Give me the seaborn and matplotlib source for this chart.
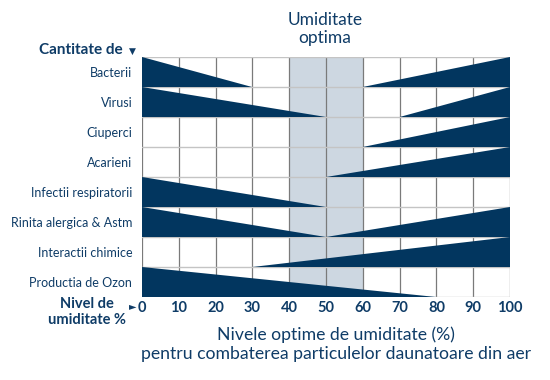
import matplotlib
matplotlib.use("Agg")
import matplotlib.pyplot as plt
import seaborn as sns
import numpy as np

categories = ["Bacterii", "Virusi", "Ciuperci", "Acarieni", "Infectii respiratorii",
              "Rinita alergica & Astm", "Interactii chimice", "Productia de Ozon"]
# humidity where the decreasing (left) wedge ends; None = no left wedge
left_end = [30, 50, None, None, 50, 50, None, 80]
# humidity where the increasing (right) wedge starts; None = no right wedge
right_start = [60, 70, 60, 50, None, 50, 30, None]
x_ticks = [0, 10, 20, 30, 40, 50, 60, 70, 80, 90, 100]
optimal_range = [40, 60]

NAVY = "#02365f"
TEXT = "#0f3c67"
BAND = "#cdd7e1"

sns.set_theme(style="white")
plt.rcParams["font.family"] = ["Lato", "DejaVu Sans"]

fig = plt.figure(figsize=(5.5, 3.8), dpi=100)
ax = fig.add_axes([142/550, 1-297/380, 368/550, 240/380])

n = len(categories)
ax.set_xlim(0, 100)
ax.set_ylim(n, 0)

ax.axvspan(optimal_range[0], optimal_range[1], color=BAND, zorder=0, lw=0)
for xv in x_ticks:
    ax.axvline(xv, color="#7a7a7a", lw=0.9, zorder=1)
for yv in range(n + 1):
    ax.axhline(yv, color="#c4c4c4", lw=1.0, zorder=1)

for i, (le, rs) in enumerate(zip(left_end, right_start)):
    if le is not None:
        ax.fill([0, 0, le], [i, i + 1, i + 1], color=NAVY, lw=0, zorder=2)
    if rs is not None:
        ax.fill([rs, 100, 100], [i + 1, i, i + 1], color=NAVY, lw=0, zorder=2)

ax.set_yticks(np.arange(n) + 0.5)
ax.set_yticklabels(categories, fontsize=9, color=TEXT)
ax.set_xticks(x_ticks)
ax.set_xticklabels([str(v) for v in x_ticks], fontsize=10.5, fontweight="bold", color=TEXT)
ax.tick_params(axis="y", length=0, pad=7)
ax.tick_params(axis="x", length=0, pad=3)
for s in ax.spines.values():
    s.set_visible(False)

fig.text(123/550, 1-50/380, "Cantitate de", ha="right", va="center",
         fontsize=11, fontweight="bold", color=TEXT)
fig.text(132/550, 1-51/380, "\u25bc", ha="center", va="center",
         fontsize=6.5, color=TEXT, family=["DejaVu Sans"])
fig.text(87/550, 1-312/380, "Nivel de\numiditate %", ha="center", va="center",
         fontsize=10.5, fontweight="bold", color=TEXT, linespacing=1.15)
fig.text(133/550, 1-306/380, "\u25ba", ha="center", va="center",
         fontsize=7, color=TEXT, family=["DejaVu Sans"])
fig.text(325/550, 1-29/380, "Umiditate\noptima", ha="center", va="center",
         fontsize=12.5, color=TEXT, linespacing=1.15)
fig.text(336/550, 1-344/380,
         "Nivele optime de umiditate (%)\npentru combaterea particulelor daunatoare din aer",
         ha="center", va="center", fontsize=12.7, color=TEXT, linespacing=1.2)

fig.savefig("out.png", dpi=100, facecolor="white")
